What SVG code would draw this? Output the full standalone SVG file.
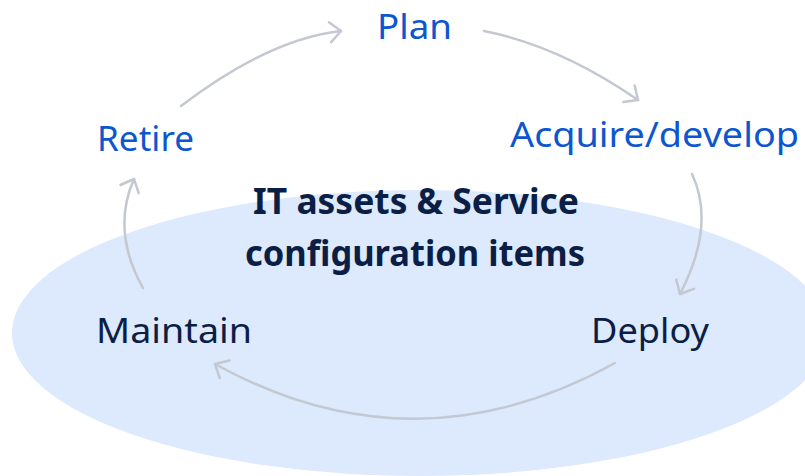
<svg xmlns="http://www.w3.org/2000/svg" width="805" height="476" viewBox="0 0 805 476">
  <style>
    .stage { font-family: "Noto Sans", "Open Sans", "Liberation Sans", sans-serif; font-size: 34px; fill: #0c56d0; }
    .phase { font-family: "Noto Sans", "Open Sans", "Liberation Sans", sans-serif; font-size: 34px; fill: #0b1e45; }
    .core { font-family: "Noto Sans", "Open Sans", "Liberation Sans", sans-serif; font-size: 36px; font-weight: 700; fill: #0b1e45; }
    .flow { fill: none; stroke: #c3c8d1; stroke-width: 2.5; stroke-linecap: round; marker-end: url(#chevron); }
  </style>
  <defs>
    <marker id="chevron" markerUnits="userSpaceOnUse" viewBox="-14 -12 16 24" refX="0" refY="0" markerWidth="16" markerHeight="24" orient="auto">
      <path d="M-11,-10 L0,0 L-11,10" fill="none" stroke="#c3c8d1" stroke-width="2.5" stroke-linecap="round" stroke-linejoin="round"/>
    </marker>
  </defs>

  <!-- shared backdrop for the lifecycle -->
  <ellipse id="backdrop" cx="420" cy="333" rx="408" ry="143" fill="#dde9fc"/>

  <g id="connectors">
    <path class="flow" d="M181,106 Q269,39 341,31"/>
    <path class="flow" d="M484,31 Q560,46 638,100"/>
    <path class="flow" d="M692,174 Q716,225 680,294"/>
    <path class="flow" d="M615,363 Q414,474 215,364"/>
    <path class="flow" d="M143,288 Q111,231 134,179"/>
  </g>

  <g id="plan"><text class="stage" x="377" y="39" textLength="75" lengthAdjust="spacingAndGlyphs">Plan</text></g>
  <g id="acquire"><text class="stage" x="510" y="147" textLength="289" lengthAdjust="spacingAndGlyphs">Acquire/develop</text></g>
  <g id="deploy"><text class="phase" x="591" y="343" textLength="118" lengthAdjust="spacingAndGlyphs">Deploy</text></g>
  <g id="maintain"><text class="phase" x="96" y="343" textLength="156" lengthAdjust="spacingAndGlyphs">Maintain</text></g>
  <g id="retire"><text class="stage" x="97" y="151" textLength="97" lengthAdjust="spacingAndGlyphs">Retire</text></g>
  <g id="center">
    <text class="core" x="253" y="214" textLength="326" lengthAdjust="spacingAndGlyphs">IT assets &amp; Service</text>
    <text class="core" x="245" y="266" textLength="340" lengthAdjust="spacingAndGlyphs">configuration items</text>
  </g>
</svg>
